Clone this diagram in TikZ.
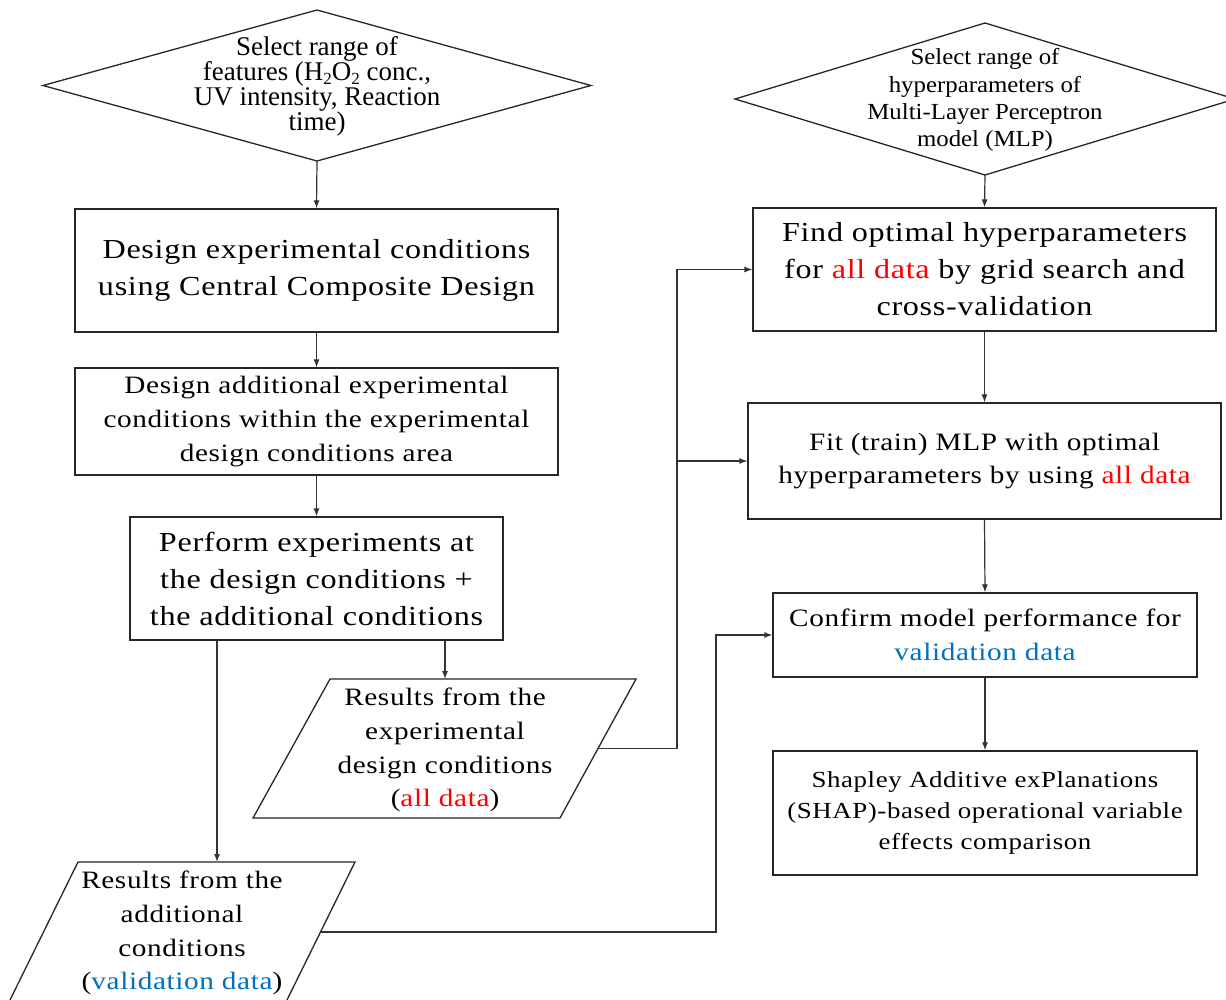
\documentclass[tikz,border=0pt]{standalone}
\usepackage{fontspec}
\setmainfont{Liberation Serif}
\newfontfamily\boxfont[FakeStretch=1.17,LetterSpace=2.5]{Liberation Serif}
\newfontfamily\dfontb[FakeStretch=1.08]{Liberation Serif}
\usetikzlibrary{arrows.meta,shapes.geometric}
\definecolor{alldata}{HTML}{FF0000}
\definecolor{valdata}{HTML}{0070C0}
\newcommand{\alld}{\textcolor{alldata}{all data}}
\newcommand{\vald}{\textcolor{valdata}{validation data}}
\newcommand{\lowsub}[1]{\raisebox{-0.16em}{\fontsize{17}{17}\selectfont #1}}
\begin{document}
\begin{tikzpicture}[x=1pt,y=-1pt,
  outline/.style={draw=black!85, line width=1.3pt},
  procbox/.style={outline, align=center, inner sep=0pt},
  dshape/.style={outline, diamond, inner sep=0pt, outer sep=0pt},
  txt/.style={align=center, inner sep=0pt},
  arr/.style={draw=black!80, line width=1.2pt, -{Latex[length=8pt,width=6pt]}},
  fA/.style={font={\boxfont\fontsize{27.5}{37}\selectfont}},
  fB/.style={font={\boxfont\fontsize{25}{33.8}\selectfont}},
  fC/.style={font={\boxfont\fontsize{23}{31}\selectfont}}
]
\useasboundingbox (0,0) rectangle (1226,999);
\clip (0,0) rectangle (1226,999);
\fill[white] (0,0) rectangle (1226,999);

% left column
\node[dshape, minimum width=548pt, minimum height=151pt] (d1) at (317,85.5) {};
\node[txt, font={\fontsize{27}{25}\selectfont}] (d1t) at (317,86) {Select range of\\features (H\lowsub{2}O\lowsub{2} conc.,\\UV intensity, Reaction\\time)};

\node[procbox, fA, minimum width=483pt, minimum height=123pt] (b1) at (316.5,270.5) {Design experimental conditions\\using Central Composite Design};
\node[procbox, fB, minimum width=483pt, minimum height=107pt] (b2) at (316.5,421.5) {Design additional experimental\\conditions within the experimental\\design conditions area};
\node[procbox, fA, minimum width=373pt, minimum height=123pt] (b3) at (316.5,578.5) {Perform experiments at\\the design conditions +\\the additional conditions};

% parallelogram 1
\draw[outline] (330,679) -- (636,679) -- (560,818) -- (253,818) -- cycle;
\coordinate (p1top) at (445,679);
\coordinate (p1right) at (598,748.5);
\node[txt, fB] (p1t) at (445,750) {Results from the\\experimental\\design conditions\\(\alld)};

% parallelogram 2
\draw[outline] (78,862) -- (355,862) -- (286,1002) -- (9,1002) -- cycle;
\coordinate (p2top) at (217,862);
\coordinate (p2right) at (321,932);
\node[txt, fB] (p2t) at (182,933) {Results from the\\additional\\conditions\\(\vald)};

% right column
\node[dshape, minimum width=500pt, minimum height=152pt] (d2) at (985,99) {};
\node[txt, font={\dfontb\fontsize{23}{27.3}\selectfont}] (d2t) at (985,100) {Select range of\\hyperparameters of\\Multi-Layer Perceptron\\model (MLP)};

\node[procbox, fA, minimum width=463pt, minimum height=123pt] (r1) at (984.5,269.5) {Find optimal hyperparameters\\for \alld{} by grid search and\\cross-validation};
\node[procbox, fB, minimum width=473pt, minimum height=116pt] (r2) at (984.5,461) {Fit (train) MLP with optimal\\hyperparameters by using \alld};
\node[procbox, fB, minimum width=424pt, minimum height=84pt] (r3) at (985,635) {Confirm model performance for\\\vald};
\node[procbox, fC, minimum width=424pt, minimum height=124pt] (r4) at (985,813) {Shapley Additive exPlanations\\(SHAP)-based operational variable\\effects comparison};

% connectors
\draw[arr] (d1.south) -- (b1.north);
\draw[arr] (b1.south) -- (b2.north);
\draw[arr] (b2.south) -- (b3.north);
\draw[arr] (b3.south -| p1top) -- (p1top);
\draw[arr] (b3.south -| p2top) -- (p2top);

\coordinate (j1) at (677,748.5);
\draw[arr] (p1right) -- (j1) |- (r1.west);
\draw[arr] (j1 |- r2.west) -- (r2.west);
\coordinate (j2) at (716,932);
\draw[arr] (p2right) -- (j2) |- (r3.west);

\draw[arr] (d2.south) -- (r1.north);
\draw[arr] (r1.south) -- (r2.north);
\draw[arr] (r2.south) -- (r3.north);
\draw[arr] (r3.south) -- (r4.north);
\end{tikzpicture}
\end{document}
